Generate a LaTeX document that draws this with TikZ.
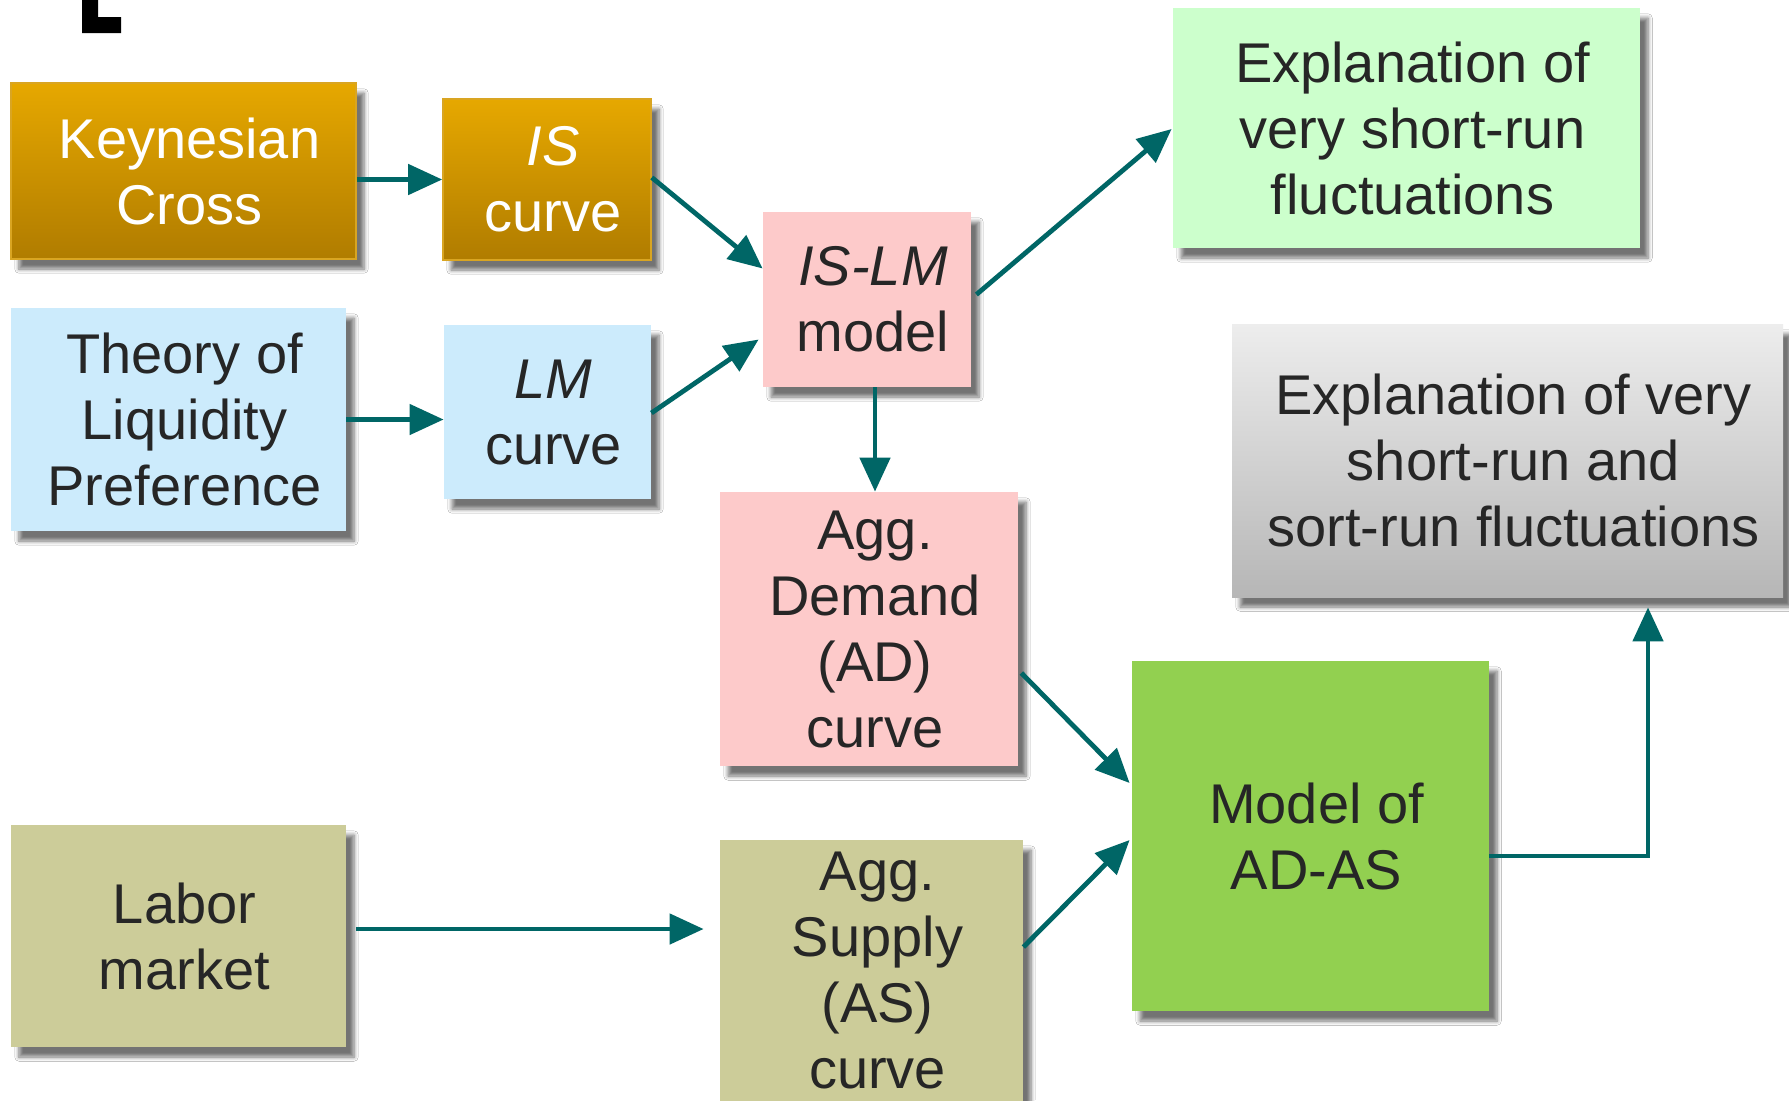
\documentclass[tikz,border=0pt]{standalone}
\usepackage{fontspec}
\setmainfont{Liberation Sans}
\usetikzlibrary{arrows.meta,calc,shadows.blur}
\definecolor{arrc}{HTML}{006666}
\definecolor{txt}{HTML}{262626}
\definecolor{goldtop}{HTML}{E6A800}
\definecolor{goldbot}{HTML}{B07C00}
\definecolor{goldedge}{HTML}{D9A522}
\definecolor{lblue}{HTML}{CCEBFC}
\definecolor{lpink}{HTML}{FDCACA}
\definecolor{lgreen}{HTML}{CCFFCC}
\definecolor{olive}{HTML}{CCCC99}
\definecolor{green2}{HTML}{92D050}
\definecolor{graytop}{HTML}{EDEDED}
\definecolor{graybot}{HTML}{B6B6B6}
\begin{document}
\begin{tikzpicture}[x=0.5pt,y=-0.5pt,
  box/.style={rectangle, inner sep=0pt,
    blur shadow={shadow xshift=4pt, shadow yshift=-5pt, shadow blur steps=6, shadow opacity=55}},
  lbl/.style={inner sep=0pt, align=center, font=\fontsize{28}{33}\selectfont, text=txt},
  wlbl/.style={lbl, text=white},
  sz/.style 2 args={minimum width=#1*0.5pt, minimum height=#2*0.5pt},
  goldbox/.style={box, top color=goldtop, bottom color=goldbot, draw=goldedge, line width=0.8pt},
  arr/.style={draw=arrc, line width=2.4pt, -{Triangle[length=17pt,width=15pt]}, arrc}
]
\useasboundingbox (0,0) rectangle (1789,1100);
\fill[white] (0,0) rectangle (1789,1100);
% corner mark
\fill[black] (82,0) -- (98,0) -- (98,17) -- (121,17) -- (121,33) -- (82,33) -- cycle;

\node[goldbox, sz={345}{176}] (kc) at (183.5,171) {};
\node[goldbox, sz={208}{161}] (is) at (547,179.5) {};
\node[box, fill=lblue, sz={335}{223}] (tlp) at (178.5,419.5) {};
\node[box, fill=lblue, sz={207}{174}] (lm) at (547.5,412) {};
\node[box, fill=lpink, sz={208}{175}] (islm) at (867,299.5) {};
\node[box, fill=lgreen, sz={467}{240}] (expa) at (1406.5,128) {};
\node[box, top color=graytop, bottom color=graybot, sz={551}{273}] (expb) at (1507.5,460.5) {};
\node[box, fill=lpink, sz={298}{274}] (ad) at (869,629) {};
\node[box, fill=green2, sz={357}{350}] (adas) at (1310.5,836) {};
\node[box, fill=olive, sz={335}{222}] (lab) at (178.5,936) {};
\node[box, fill=olive, sz={303}{270}] (as) at (871.5,975) {};

\node[wlbl] (kc-t) at ($(kc)+(6,0)$) {Keynesian\\Cross};
\node[wlbl] (is-t) at ($(is)+(6,0)$) {\textit{IS}\\curve};
\node[lbl] (tlp-t) at ($(tlp)+(6,0)$) {Theory of\\Liquidity\\Preference};
\node[lbl] (lm-t) at ($(lm)+(6,0)$) {\textit{LM}\\curve};
\node[lbl] (islm-t) at ($(islm)+(6,0)$) {\textit{IS-LM}\\model};
\node[lbl] (expa-t) at ($(expa)+(6,0)$) {Explanation of\\very short-run\\fluctuations};
\node[lbl] (expb-t) at ($(expb)+(6,0)$) {Explanation of very\\short-run and\\sort-run fluctuations};
\node[lbl] (ad-t) at ($(ad)+(6,0)$) {Agg.\\Demand\\(AD)\\curve};
\node[lbl] (adas-t) at ($(adas)+(6,0)$) {Model of\\AD-AS};
\node[lbl] (lab-t) at ($(lab)+(6,0)$) {Labor\\market};
\node[lbl] (as-t) at ($(as)+(6,-5)$) {Agg.\\Supply\\(AS)\\curve};

\draw[arr] (kc.east |- is.west) -- (is.west);
\draw[arr] (tlp.east) -- (tlp.east -| lm.west);
\draw[arr] ($(is.east)+(0,-2)$) -- ($(islm.west)+(0,-31)$);
\draw[arr] ($(lm.east)+(0,1)$) -- ($(islm.west)+(-4,40)$);
\draw[arr] ($(islm.east)+(5,-5)$) -- ($(expa.west)+(-1,1)$);
\draw[arr] ($(islm.south)+(8,0)$) coordinate (t1) -- (t1 |- ad.north);
\draw[arr] ($(ad.east)+(3,44)$) -- ($(adas.west)+(-2,-53)$);
\draw[arr] ($(as.east)+(0,-28)$) -- ($(adas.west)+(-2,4)$);
\draw[arr] ($(lab.east)+(10,-7)$) coordinate (t2) -- (t2 -| {$(as.west)+(-16,0)$});
\draw[arr] ($(adas.east)+(0,20)$) -| ($(expb.south)+(140.5,10)$);
\end{tikzpicture}
\end{document}
